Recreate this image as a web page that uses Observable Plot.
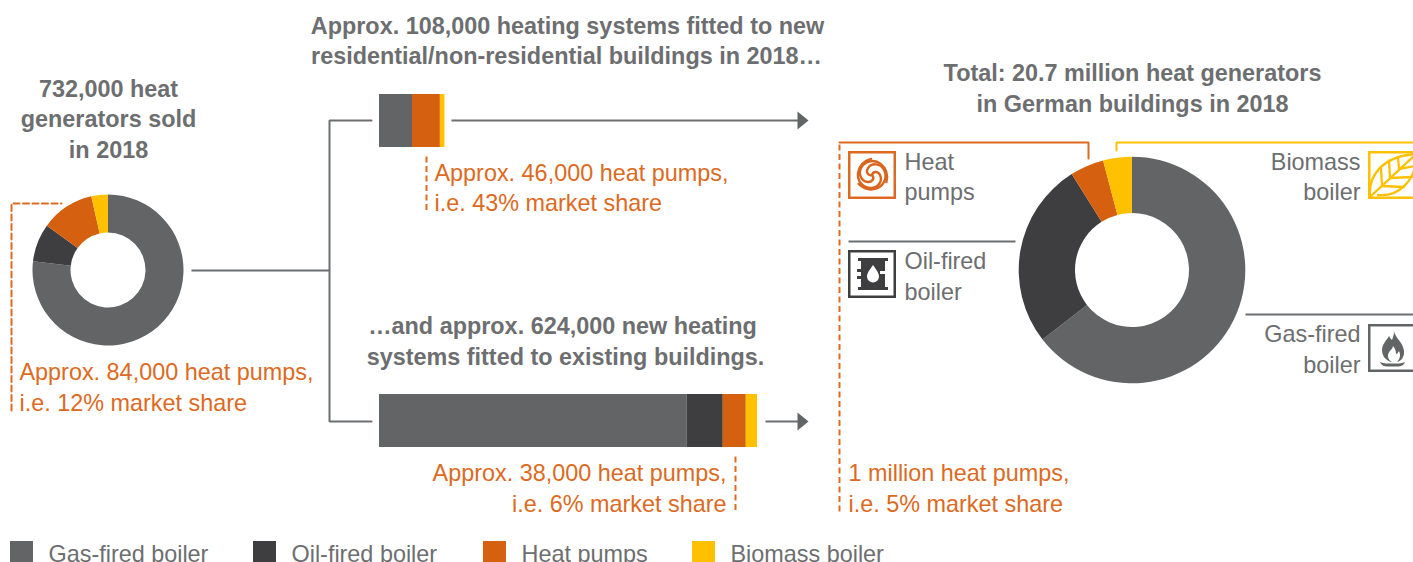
<!DOCTYPE html>
<html><head><meta charset="utf-8">
<script src="https://cdn.jsdelivr.net/npm/d3@7"></script>
<script src="https://cdn.jsdelivr.net/npm/@observablehq/plot@0.6"></script>
<style>html,body{margin:0;padding:0;background:#fff;overflow:hidden}svg{display:block}</style>
</head><body><div id="chart"></div>
<script>
// ---- data ----
const categories = ["Gas-fired boiler", "Oil-fired boiler", "Heat pumps", "Biomass boiler"];
const sold2018 = [562.5, 59.5, 84, 26];         // thousands
const newBuild2018 = [54.5, 0, 46, 7.5];        // thousands
const existing2018 = [508, 59.5, 38, 18.5];     // thousands
const stock2018 = [13.35, 5.5, 1.0, 0.85];      // millions
const colors = ["#636466", "#3e3e40", "#d5600f", "#ffc000"];

// ---- palette / layout ----
const GREY = "#6d6e70", LINE = "#6d6e70", ORANGE = "#dc6a22", YELLOW = "#ffc000", DARK = "#3e3e40";
const FONT = "'Liberation Sans', Arial, sans-serif";
const pxPerThousand = 378 / 624;

function stack(values, x0) {
  let c = 0;
  return values.map((v, i) => {
    const r = {cat: categories[i], x1: x0 + c * pxPerThousand, x2: x0 + (c + v) * pxPerThousand};
    c += v; return r;
  }).filter((d) => d.x2 > d.x1);
}

function donut(values, cx, cy, R, r) {
  return (index, {x, y}) => {
    const g = d3.create("svg:g").attr("transform", `translate(${x(cx)},${y(cy)})`);
    const arcs = d3.pie().sort(null)(values);
    const arc = d3.arc().innerRadius(r).outerRadius(R);
    g.selectAll("path").data(arcs).join("path").attr("d", arc).attr("fill", (d, i) => colors[i]);
    return g.node();
  };
}

function icon(px, py, color, body) {
  return (index, {x, y}) => {
    const g = d3.create("svg:g").attr("transform", `translate(${x(px)},${y(py)})`);
    g.append("rect").attr("x", 1.25).attr("y", 1.25).attr("width", 45.5).attr("height", 45.5)
      .attr("fill", "none").attr("stroke", color).attr("stroke-width", 2.5);
    g.append("g").html(body);
    return g.node();
  };
}

const seg = (x1, y1, x2, y2, stroke, extra = {}) =>
  Plot.line([[x1, y1], [x2, y2]], {x: "0", y: "1", stroke, strokeWidth: 2, strokeLinecap: "butt", ...extra});
const path = (pts, stroke, extra = {}) =>
  Plot.line(pts, {x: "0", y: "1", stroke, strokeWidth: 2, strokeLinejoin: "miter", ...extra});
const arrow = (x, y) => Plot.line([[x, y - 9], [x + 11, y], [x, y + 9]], {x: "0", y: "1", fill: "#636466", stroke: "none"});
const txt = (rows, opts) => Plot.text(rows, {x: "x", y: "y", dy: 0.7, text: "t", fontFamily: FONT, fontSize: 23.4, lineAnchor: "middle", textAnchor: "start", fill: GREY, ...opts});
const bold = (rows, opts) => txt(rows, {fontWeight: "bold", textAnchor: "middle", fill: GREY, ...opts});
const DASH = {strokeDasharray: "6 3.5"};

const swirlArm = "M24 24 C25 20 30 20 32 24 C35 30 30 37 23 37 C15 37 9 30 10 22 C11 15 16 10 23 8";
const swirl = `<g fill="none" stroke="#d9661f" stroke-width="2.4" stroke-linecap="round">
${[0, 120, 240].map((a) => `<path transform="rotate(${a} 24 24)" d="${swirlArm}"/>`).join("")}</g>`;
const barrel = `<path fill="#3e3e40" d="M10 8h30v3h-3v10h-5v3h5v13h3v3H10v-3h3v-8H9v-3h4v-4H9v-3h4v-8h-3z"/>
<path fill="#fff" d="M25 15c3.500 5 6 8 6 11.500a6 6 0 0 1-12 0c0-3.500 2.500-6.500 6-11.500z"/>`;
const leaf = `<g fill="none" stroke="#ffc000" stroke-width="2.3" stroke-linejoin="round" stroke-linecap="round">
<path d="M2 46C0 25 14 5 48 3C49 30 30 46 10 44"/><path d="M2 46L46 5"/>
<path d="M14 35L13 18M22 27L21 10M31 18L30 6"/><path d="M14 35L36 36M22 27L44 26M31 18L47 15"/></g>`;
const flame = `<path fill="#636466" d="M26 7c1 7 9 11 10 20 .7 6-3 10-7 11 3-3 4-7 2-11-1 2-2 3-3 3 0-3-1-6-3-8 0 3-5 5-5 10 0 3 2 5 4 6-6-1-10-6-10-12 0-6 5-10 7-14 1 2 2 3 3 4 1-3 2-5 2-9z"/>
<path fill="#636466" d="M12 38c3 1 6 1.500 8 1.500h9c2 0 5-.5 8-1.500-1 3-4 4.500-7 4.500H19c-3 0-6-1.500-7-4.500z"/>`;

const plot = Plot.plot({
  width: 1413, height: 562,
  margin: 0,
  x: {domain: [0, 1413], range: [0, 1413], axis: null},
  y: {domain: [0, 562], range: [0, 562], axis: null},
  color: {domain: categories, range: colors},
  marks: [
    // connectors
    seg(191, 270, 329, 270, LINE),
    path([[371, 120], [329, 120], [329, 421], [371, 421]], LINE),
    seg(451, 120, 798, 120, LINE), arrow(797, 120),
    seg(765, 421, 798, 421, LINE), arrow(797, 421),
    // bars
    Plot.rectX(stack(newBuild2018, 379), {x1: "x1", x2: "x2", y1: 94, y2: 147, fill: "cat"}),
    Plot.rectX(stack(existing2018, 379), {x1: "x1", x2: "x2", y1: 394, y2: 447, fill: "cat"}),
    // donuts
    donut(sold2018, 108, 270, 75.5, 37.5),
    donut(stock2018, 1132, 270, 113.3, 57),
    // leader lines
    path([[11, 410], [11, 203], [61, 203]], ORANGE, DASH),
    seg(426, 156, 426, 211, ORANGE, DASH),
    seg(735, 456, 735, 511, ORANGE, DASH),
    seg(839, 511, 839, 143, ORANGE, DASH),
    path([[839, 142], [1088, 142], [1088, 158]], ORANGE),
    path([[1116, 150], [1116, 142], [1413, 142]], YELLOW),
    seg(848, 241, 1015, 241, LINE),
    seg(1245, 314, 1413, 314, LINE),
    // titles
    bold([{x: 108, y: 88, t: "732,000 heat"}, {x: 108, y: 118, t: "generators sold"}, {x: 108, y: 149, t: "in 2018"}]),
    bold([{x: 567, y: 25, t: "Approx. 108,000 heating systems fitted to new"}, {x: 566, y: 55, t: "residential/non-residential buildings in 2018…"}]),
    bold([{x: 562, y: 325, t: "…and approx. 624,000 new heating"}, {x: 565, y: 356, t: "systems fitted to existing buildings."}]),
    bold([{x: 1132, y: 72, t: "Total: 20.7 million heat generators"}, {x: 1132, y: 103, t: "in German buildings in 2018"}]),
    // orange notes
    txt([{x: 19, y: 371, t: "Approx. 84,000 heat pumps,"}, {x: 19, y: 402, t: "i.e. 12% market share"},
         {x: 434, y: 172, t: "Approx. 46,000 heat pumps,"}, {x: 434, y: 202, t: "i.e. 43% market share"},
         {x: 848, y: 472, t: "1 million heat pumps,"}, {x: 848, y: 503, t: "i.e. 5% market share"}], {fill: ORANGE}),
    txt([{x: 726, y: 472, t: "Approx. 38,000 heat pumps,"}, {x: 726, y: 503, t: "i.e. 6% market share"}], {fill: ORANGE, textAnchor: "end"}),
    // category labels
    txt([{x: 904, y: 161, t: "Heat"}, {x: 904, y: 191, t: "pumps"}, {x: 904, y: 260, t: "Oil-fired"}, {x: 904, y: 291, t: "boiler"}]),
    txt([{x: 1360, y: 161, t: "Biomass"}, {x: 1360, y: 191, t: "boiler"}, {x: 1360, y: 333, t: "Gas-fired"}, {x: 1360, y: 364, t: "boiler"}], {textAnchor: "end"}),
    // icons
    icon(848, 151, ORANGE, swirl),
    icon(848, 250, DARK, barrel),
    icon(1368, 151, YELLOW, leaf),
    icon(1368, 324, "#636466", flame),
    // legend
    Plot.rect(categories, {x1: (d, i) => [10, 253, 483, 692][i], x2: (d, i) => [33, 276, 506, 715][i], y1: 541, y2: 562, fill: (d) => d}),
    txt(categories.map((t, i) => ({t, x: [48, 291, 521, 730][i], y: 553})), {})
  ]
});
document.getElementById("chart").append(plot);
</script></body></html>
